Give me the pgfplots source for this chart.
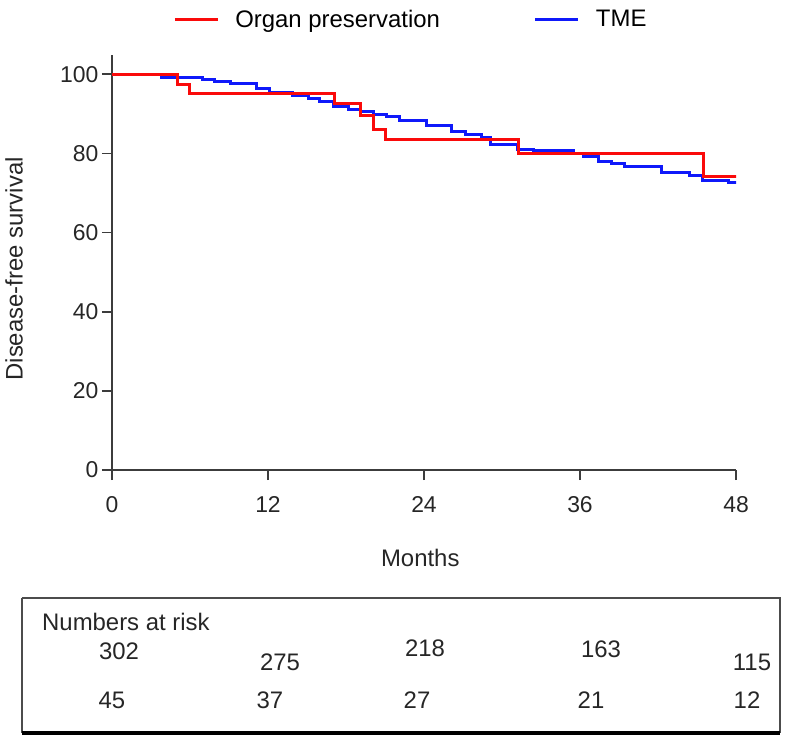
\documentclass[border=0pt]{standalone}
\usepackage{pgfplots}
\pgfplotsset{compat=1.18}
\usepackage{fontspec}
\setmainfont{Liberation Sans}
\definecolor{kmred}{RGB}{250,10,10}
\definecolor{kmblue}{RGB}{15,25,250}
\definecolor{axgray}{RGB}{60,60,60}
\begin{document}
\begin{tikzpicture}
\path[use as bounding box] (-112bp,-268bp) rectangle (680bp,470bp);
\begin{axis}[
  at={(0bp,0bp)}, anchor=south west,
  x=13bp, y=3.957bp,
  xmin=0, xmax=48, ymin=0, ymax=105,
  axis x line*=bottom, axis y line*=left,
  xtick={0,12,24,36,48}, ytick={0,20,40,60,80,100},
  tick align=outside, major tick length=10bp,
  every tick/.style={axgray, line width=1.8bp},
  axis line style={axgray, line width=1.8bp},
  /pgf/number format/assume math mode=true,
  ticklabel style={font=\fontsize{23}{27}\selectfont, text=black!85},
  xticklabel style={yshift=-13bp},
  xlabel={Months}, ylabel={Disease-free survival},
  label style={font=\fontsize{24}{28}\selectfont, text=black!85},
  xlabel style={at={(axis description cs:0.494,-0.212)}, anchor=center},
  ylabel style={at={(axis description cs:-0.157,0.484)}, anchor=center},
  legend style={at={(axis description cs:0.479,1.085)}, anchor=center,
    draw=none, fill=none, font=\fontsize{24}{28}\selectfont,
    /tikz/every odd column/.append style={column sep=14bp},
    /tikz/every even column/.append style={column sep=92bp}},
  legend columns=2,
  legend image code/.code={\draw[#1] (0bp,0bp)--(43bp,0bp);},
]
\addplot[const plot, kmblue, line width=3bp, forget plot] coordinates {
(0,100) (3.8,99.1) (7.0,98.6) (7.9,98.1) (9.1,97.7) (11.1,96.3) (12.1,95.4)
(13.9,94.6) (15.1,93.9) (16.0,93.1) (17.0,91.9) (18.2,91.0) (19.1,90.5)
(20.1,89.9) (21.1,89.3) (22.1,88.2) (24.2,87.1) (26.1,85.6) (27.2,84.7)
(28.4,84.0) (29.1,82.3) (31.2,81.1) (32.4,80.8) (35.5,80.0) (36.3,79.2)
(37.4,78.0) (38.4,77.4) (39.4,76.6) (42.3,75.1) (44.4,74.3) (45.4,73.2)
(47.4,72.7) (48.3,72.7)
};
\addplot[const plot, kmred, line width=3bp] coordinates {
(0,100) (5.05,97.5) (5.95,95.2) (17.15,92.6) (19.1,89.6) (20.1,86.0)
(21.0,83.5) (31.3,80.0) (45.5,74.2) (48.2,74.2)
};
\addlegendentry{Organ preservation}
\addlegendimage{kmblue, line width=3bp}
\addlegendentry{TME}
\end{axis}
% numbers at risk table
\draw[black!70, line width=1.2bp] (-90bp,-128bp) -- (668bp,-128bp) -- (668bp,-263bp);
\draw[black!70, line width=1.2bp] (-90bp,-263bp) -- (-90bp,-128bp);
\draw[black, line width=3.5bp] (-90bp,-263bp) -- (668bp,-263bp);
\begin{scope}[every node/.style={font=\fontsize{24}{28}\selectfont, text=black!85, inner sep=0pt}]
\node[anchor=west] at (-70bp,-152bp) {Numbers at risk};
\node at (7bp,-181bp) {302};
\node at (168bp,-192bp) {275};
\node at (313bp,-178bp) {218};
\node at (489bp,-179bp) {163};
\node at (640bp,-192bp) {115};
\node at (0bp,-230bp) {45};
\node at (158bp,-230bp) {37};
\node at (305bp,-230bp) {27};
\node at (479bp,-230bp) {21};
\node at (635bp,-230bp) {12};
\end{scope}
\end{tikzpicture}
\end{document}
